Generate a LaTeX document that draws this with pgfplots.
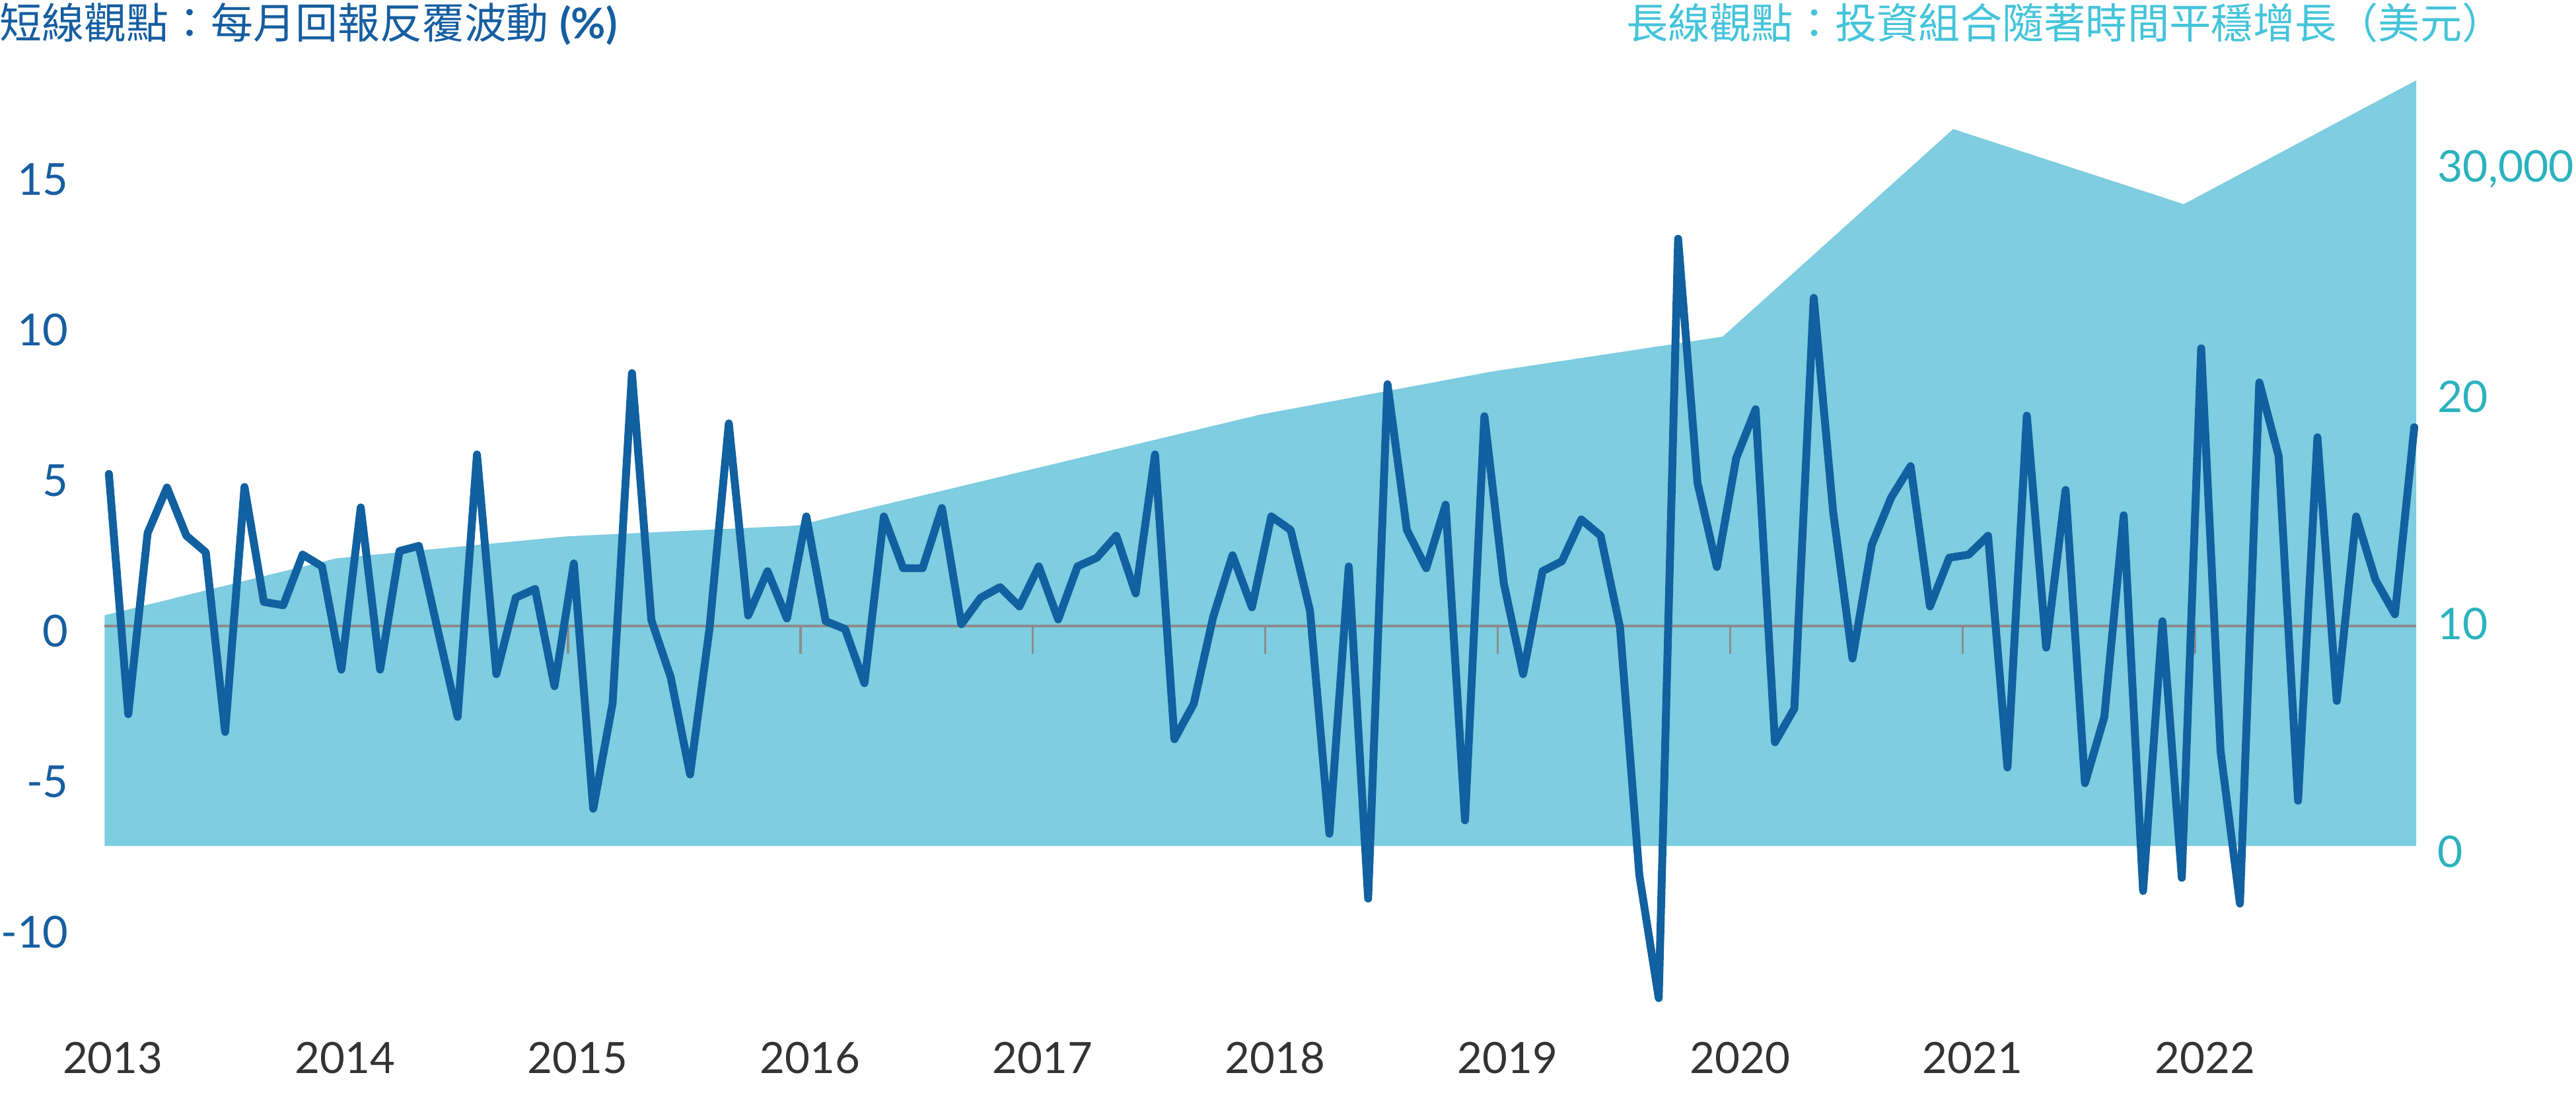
\documentclass[border=0pt]{standalone}
\usepackage{fontspec}
\setmainfont{Lato}
\newfontfamily\cjk{Noto Sans CJK TC}
\usepackage{pgfplots}
\pgfplotsset{compat=1.18}
\definecolor{linecol}{HTML}{1160A0}
\definecolor{areacol}{HTML}{7ECDE0}
\definecolor{leftcol}{HTML}{165EA0}
\definecolor{rightcol}{HTML}{2CB2BE}
\definecolor{rtitle}{HTML}{45C4DA}
\definecolor{yearcol}{HTML}{333333}
\definecolor{zerocol}{HTML}{8C8C8C}

\pgfplotstableread{
i r
0 5.05
1 -2.93
2 3.09
3 4.6
4 3.0
5 2.45
6 -3.52
7 4.62
8 0.8
9 0.69
10 2.37
11 1.98
12 -1.45
13 3.94
14 -1.45
15 2.49
16 2.66
17 -0.2
18 -3.02
19 5.7
20 -1.6
21 0.94
22 1.23
23 -2.0
24 2.08
25 -6.07
26 -2.57
27 8.4
28 0.2
29 -1.7
30 -4.93
31 -0.1
32 6.73
33 0.35
34 1.82
35 0.25
36 3.64
37 0.16
38 -0.1
39 -1.9
40 3.64
41 1.92
42 1.92
43 3.92
44 0.06
45 0.94
46 1.29
47 0.65
48 1.98
49 0.22
50 1.98
51 2.27
52 3.0
53 1.08
54 5.7
55 -3.76
56 -2.58
57 0.3
58 2.35
59 0.62
60 3.64
61 3.19
62 0.5
63 -6.9
64 1.98
65 -9.05
66 8.03
67 3.19
68 1.92
69 4.03
70 -6.45
71 6.97
72 1.43
73 -1.6
74 1.82
75 2.15
76 3.54
77 3.0
78 -0.04
79 -8.28
80 -12.36
81 12.86
82 4.76
83 1.96
84 5.58
85 7.2
86 -3.86
87 -2.74
88 10.9
89 3.8
90 -1.08
91 2.7
92 4.27
93 5.31
94 0.65
95 2.27
96 2.37
97 3.0
98 -4.7
99 6.99
100 -0.72
101 4.52
102 -5.22
103 -3.02
104 3.68
105 -8.8
106 0.16
107 -8.36
108 9.22
109 -4.15
110 -9.22
111 8.09
112 5.64
113 -5.8
114 6.27
115 -2.49
116 3.64
117 1.53
118 0.39
119 6.6
}\monthly

\begin{document}
\begin{tikzpicture}
\path[use as bounding box] (0,0) rectangle (19.5,-8.415);

% long-term portfolio value (right axis)
\begin{axis}[
  at={(0.792cm,-7.704cm)}, anchor=south west,
  scale only axis, width=17.4985cm, height=7.182cm,
  xmin=-0.22, xmax=119.1, ymin=-7.537, ymax=34.13,
  axis x line=none, axis y line*=right,
  y axis line style={draw=none},
  major tick length=0pt,
  ytick={0,10,20,30}, yticklabels={0,10,20,{30,000}},
  yticklabel style={anchor=west, inner sep=0pt, xshift=0.155cm, yshift=-0.045cm,
    text=rightcol, font=\fontsize{9.4}{11}\selectfont},
]
\addplot[fill=areacol, draw=none] coordinates {
(-0.22,10.13) (11.73,12.63) (23.7,13.60) (35.5,14.07) (59.4,18.94)
(71.4,20.84) (83.3,22.37) (95.2,31.49) (107.1,28.19) (119.1,33.63)
(119.1,0) (-0.22,0)} -- cycle;
\end{axis}

% short-term monthly returns (left axis)
\begin{axis}[
  at={(0.792cm,-7.704cm)}, anchor=south west,
  scale only axis, width=17.4985cm, height=7.182cm,
  xmin=-0.22, xmax=119.1, ymin=-13, ymax=18.5,
  axis x line*=bottom, axis y line*=left,
  axis line style={draw=none},
  major tick length=0pt,
  xtick={0,12,24,36,48,60,72,84,96,108},
  xticklabels={2013,2014,2015,2016,2017,2018,2019,2020,2021,2022},
  xticklabel style={anchor=base, inner sep=0pt, yshift=-0.421cm, xshift=0.03cm,
    text=yearcol, font=\fontsize{9.3}{11}\selectfont},
  ytick={-10,-5,0,5,10,15}, yticklabels={-10,-5,0,5,10,15},
  yticklabel style={anchor=east, inner sep=0pt, xshift=-0.267cm, yshift=-0.037cm,
    text=leftcol, font=\fontsize{9.5}{11}\selectfont},
  clip=false,
]
\addplot[zerocol, line width=0.45pt] coordinates {(-0.22,0) (119.1,0)};
\addplot[zerocol, line width=0.45pt, ycomb] coordinates {
(11.7,-0.92) (23.7,-0.92) (35.7,-0.92) (47.7,-0.92) (59.7,-0.92)
(71.7,-0.92) (83.7,-0.92) (95.7,-0.92) (107.7,-0.92)};
\addplot[linecol, line width=1.7pt, line join=round, line cap=round] table[x=i, y=r] {\monthly};
\end{axis}

\node[anchor=base west, inner sep=0pt, text=leftcol, font=\fontsize{9.1}{11}\selectfont]
  at (-0.01,-0.29) {{\cjk 短線觀點：每月回報反覆波動} \textbf{(\%)}};
\node[anchor=base east, inner sep=0pt, text=rtitle, font=\fontsize{9.0}{11}\selectfont]
  at (18.96,-0.29) {\cjk 長線觀點：投資組合隨著時間平穩增長（美元）};
\end{tikzpicture}
\end{document}
